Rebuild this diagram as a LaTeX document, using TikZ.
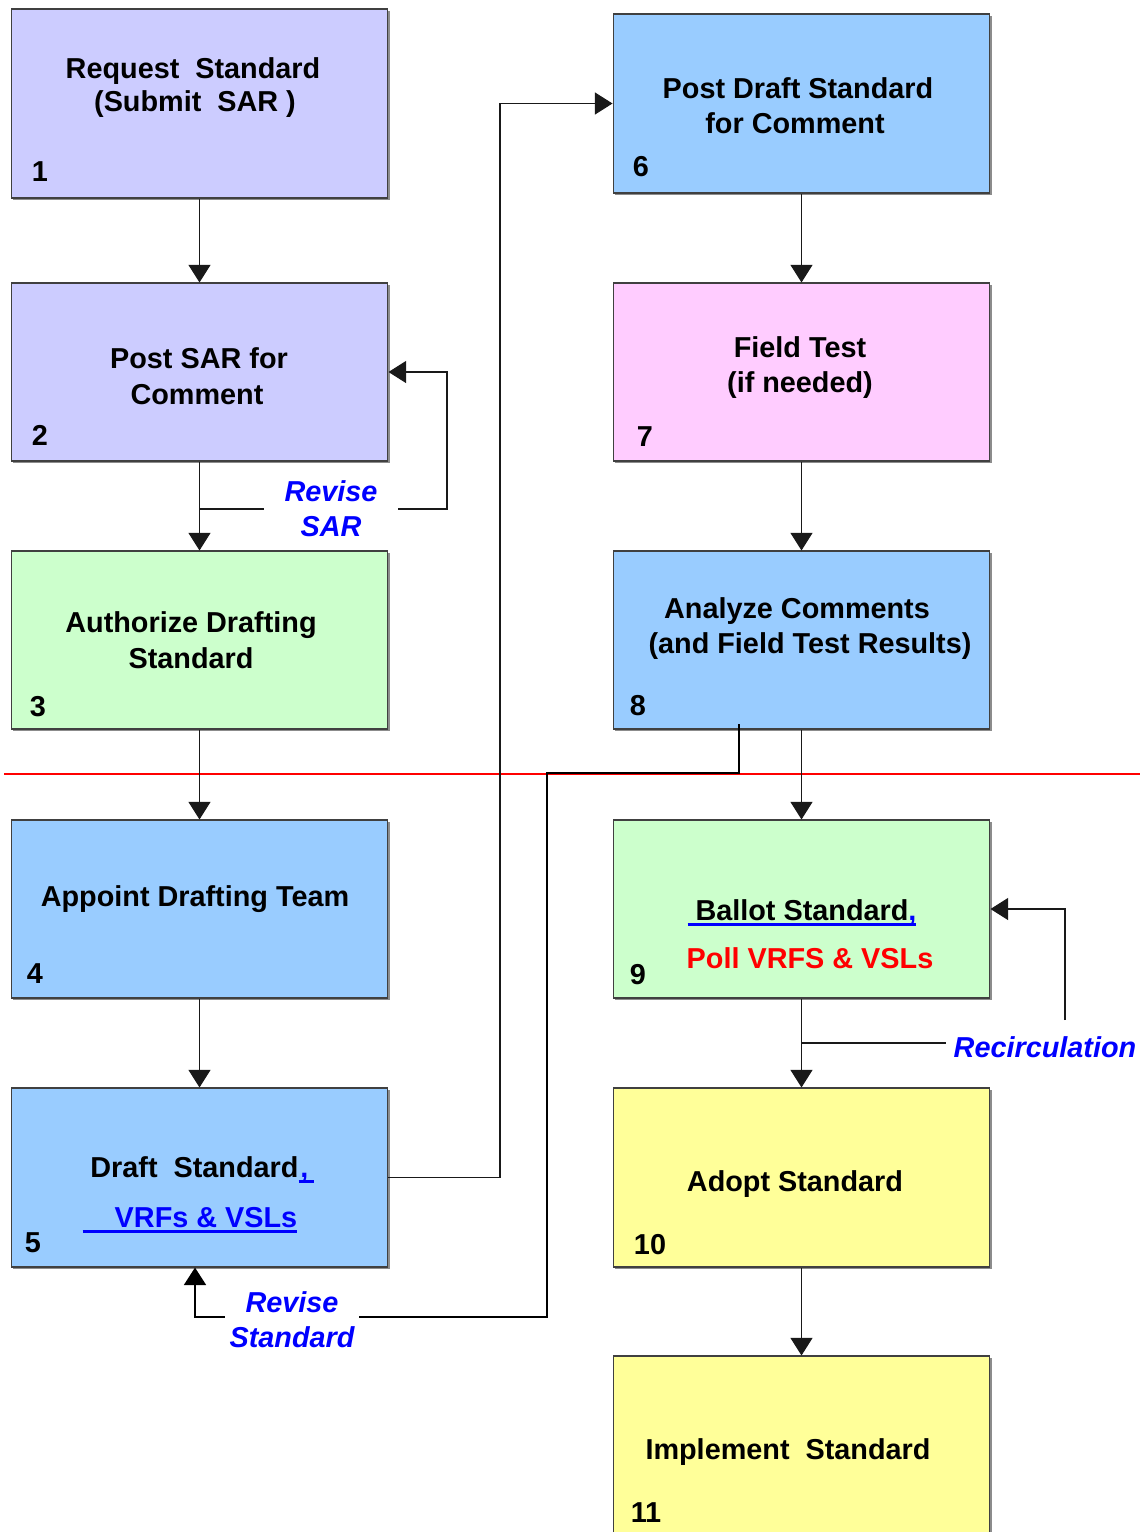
\documentclass[tikz,border=0pt]{standalone}
\usepackage{fontspec}
\setmainfont{Liberation Sans}
\usetikzlibrary{arrows.meta,shadows}
\definecolor{lavender}{HTML}{CCCCFF}
\definecolor{mint}{HTML}{CCFFCC}
\definecolor{sky}{HTML}{99CCFF}
\definecolor{rose}{HTML}{FFCCFF}
\definecolor{butter}{HTML}{FFFF99}
\definecolor{loopblue}{HTML}{0000FF}
\def\boxw{7.54cm}
\newsavebox\ulbox
\newcommand\bluline[1]{\sbox\ulbox{#1}\rlap{\textcolor{loopblue}{\rule[-3.6pt]{\wd\ulbox}{1.7pt}}}\usebox\ulbox}

\begin{document}
\begin{tikzpicture}[x=0.02cm,y=-0.02cm,>={Triangle[width=12.5pt,length=10pt]},line width=0.6pt]
    \tikzstyle{stage}=[rectangle,draw=black!75,line width=0.6pt,minimum width=\boxw,inner sep=0pt,
        drop shadow={shadow xshift=1.2pt,shadow yshift=-1.2pt,fill=black!45,opacity=1}]
    \tikzstyle{txt}=[anchor=base,inner sep=0pt,font=\fontsize{16.4}{20}\selectfont\bfseries]
    \tikzstyle{loop label}=[txt,anchor=center,align=center,text=loopblue,minimum width=2.66cm,
        font=\fontsize{16.4}{20}\selectfont\bfseries\itshape]
    \tikzstyle{flow}=[->,draw=black!90]
    \tikzstyle{back}=[->,draw=black,line width=1.2pt]

    \useasboundingbox (0,0) rectangle (1140,1532);

    % Draw the stage boxes
    \foreach \name/\x/\y/\h/\c in {1/199.5/103.5/189/lavender,2/199.5/372/178/lavender,
        3/199.5/640/178/mint,4/199.5/909/178/sky,5/199.5/1177.5/179/sky,
        6/801.5/103.5/179/sky,7/801.5/372/178/rose,8/801.5/640/178/sky,
        9/801.5/909/178/mint,10/801.5/1177.5/179/butter,11/801.5/1445/178/butter}
        \node[stage,fill=\c,minimum height=\h*0.02cm] (S-\name) at (\x,\y) {};

    % Step numbers
    \foreach \name/\x/\y in {1/40/181,2/40/445,3/38/716,4/35/983,5/33/1252,
        6/641/176,7/645/446,8/638/715,9/638/984,10/650/1254,11/646/1522}
        \node[txt] (N-\name) at (\x,\y) {\name};

    % Box texts
    \node[txt] (T-1a) at (193,78) {Request\ \ Standard};
    \node[txt] (T-1b) at (195,111) {(Submit\ \ SAR\ )};
    \node[txt] (T-2a) at (199,368) {Post SAR for};
    \node[txt] (T-2b) at (197,404) {Comment};
    \node[txt] (T-3a) at (191,632) {Authorize Drafting};
    \node[txt] (T-3b) at (191,668) {Standard};
    \node[txt] (T-4) at (195,906) {Appoint Drafting Team};
    \node[txt] (T-5a) at (202,1177) {Draft\ \ Standard\bluline{\textcolor{loopblue}{\kern1pt,\kern3pt}}};
    \node[txt] (T-5b) at (190,1227) {\bluline{\textcolor{loopblue}{\ \ \ \ VRFs \& VSLs}}};
    \node[txt] (T-6a) at (798,98) {Post Draft Standard};
    \node[txt] (T-6b) at (795,133) {for Comment};
    \node[txt] (T-7a) at (800,357) {Field Test};
    \node[txt] (T-7b) at (800,392) {(if needed)};
    \node[txt] (T-8a) at (797,618) {Analyze Comments};
    \node[txt] (T-8b) at (810,653) {(and Field Test Results)};
    \node[txt] (T-9a) at (802,920) {\bluline{\ Ballot Standard\textcolor{loopblue}{,}}};
    \node[txt,text=red] (T-9b) at (810,968) {Poll VRFS \& VSLs};
    \node[txt] (T-10) at (795,1191) {Adopt Standard};
    \node[txt] (T-11) at (788,1459) {Implement\ \ Standard};

    % Loop labels
    \node[loop label] (RS) at (331,509) {Revise\\SAR};
    \node[loop label] (RV) at (292,1320) {Revise\\Standard};
    \node[loop label,minimum width=0pt,inner xsep=4pt] (RC) at (1045,1047) {Recirculation};

    % Phase divider
    \coordinate (d1) at (4,774);
    \coordinate (d2) at (1140,774);
    \draw[red,line width=0.8pt] (d1) -- (d2);

    % Straight flow down each column
    \foreach \source/\dest in {1/2,2/3,3/4,4/5,6/7,7/8,8/9,9/10,10/11}
        \draw[flow] (S-\source) -- (S-\dest);

    % Draft standard goes to posting
    \coordinate (m1) at (500,1177.5);
    \draw[flow] (S-5.east) -- (m1) |- (S-6.west);

    % Revise SAR loop
    \coordinate (r1) at (200,509);
    \coordinate (r2) at (447,509);
    \draw[flow,-] (r1) -- (RS.west |- r1);
    \draw[flow] (RS.east |- r1) -- (r2) |- (S-2.east);

    % Revise standard loop
    \coordinate (q1) at (739,724);
    \coordinate (q2) at (547,773);
    \coordinate (q3) at (547,1317);
    \coordinate (q4) at (195,1317);
    \draw[back,-] (q1) |- (q2) -- (q3) -- (RV.east |- q3);
    \draw[back] (RV.west |- q3) -- (q4) -- (q4 |- S-5.south);

    % Recirculation loop
    \coordinate (c1) at (801,1043);
    \coordinate (c2) at (1065,1020);
    \draw[flow,-] (c1) -- (RC.west |- c1);
    \draw[flow] (c2) |- (S-9.east);
\end{tikzpicture}
\end{document}
